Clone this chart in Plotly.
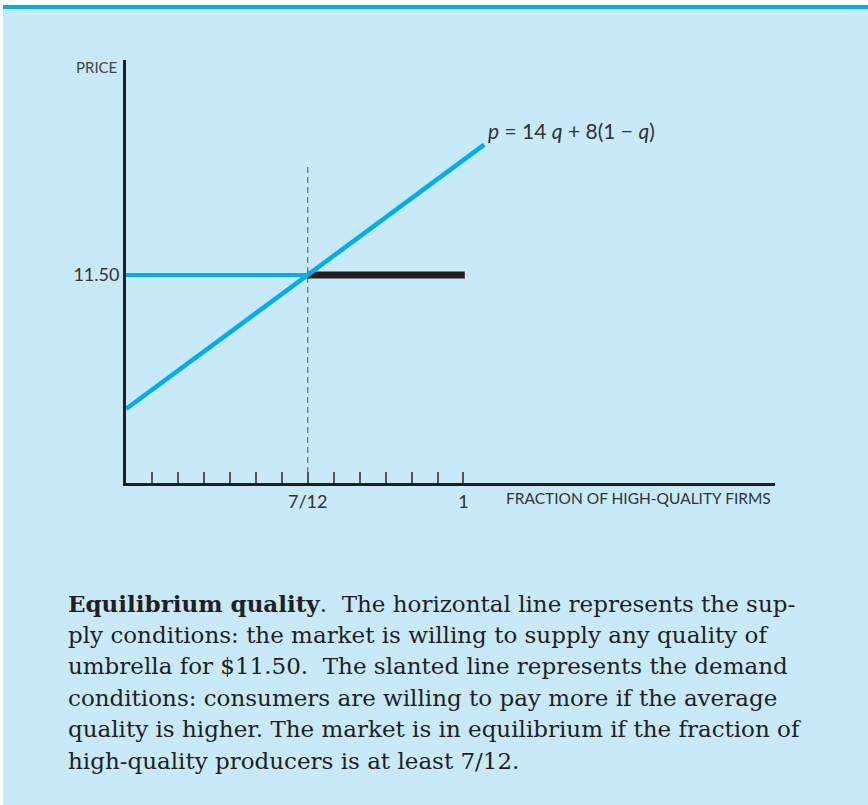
import plotly.graph_objects as go

# ---- data (axis units: one tick step per unit; 7/12 sits on tick 7, 1 on tick 13) ----
demand_x = [0.0, 13.8]
demand_y = [8.0, 14.9]
supply_low_x = [0.0, 7.0]
supply_high_x = [7.0, 13.05]
supply_price = 11.5
equilibrium_x = 7.0
dash_top = 14.35
tick_vals = list(range(1, 14))
tick_text = ["", "", "", "", "", "", "7/12", "", "", "", "", "", "1"]
y_tick_vals = [11.5]
y_tick_text = ["11.50"]

caption_lines = [
    "<b>Equilibrium quality</b>.  The horizontal line represents the sup-",
    "ply conditions: the market is willing to supply any quality of",
    "umbrella for $11.50.  The slanted line represents the demand",
    "conditions: consumers are willing to pay more if the average",
    "quality is higher. The market is in equilibrium if the fraction of",
    "high-quality producers is at least 7/12.",
]
caption_y_px = [603, 635, 666, 698, 729, 761]

W, H = 868, 805
L, R, T, B = 126, 775, 60, 483
BG = "#c8eaf8"
CYAN = "#00aeef"
DARK = "#231f20"
SANS = "Lato, 'Open Sans', sans-serif"
SERIF = "'DejaVu Serif', 'Liberation Serif', serif"


def px(x):
    return (x - L) / (R - L)


def py(y):
    return (B - y) / (B - T)


fig = go.Figure()

fig.add_trace(go.Scatter(x=[equilibrium_x, equilibrium_x], y=[6.07, dash_top], mode="lines",
                         line=dict(color="#555555", width=1, dash="6px,4px"), hoverinfo="skip"))
fig.add_trace(go.Scatter(x=supply_low_x, y=[supply_price] * 2, mode="lines",
                         line=dict(color=CYAN, width=4), hoverinfo="skip"))
fig.add_trace(go.Scatter(x=supply_high_x, y=[supply_price] * 2, mode="lines",
                         line=dict(color=DARK, width=7), hoverinfo="skip"))
fig.add_trace(go.Scatter(x=demand_x, y=demand_y, mode="lines",
                         line=dict(color=CYAN, width=4.5), hoverinfo="skip"))

annotations = [
    dict(x=px(119), y=py(67), xref="paper", yref="paper", text="PRICE", showarrow=False,
         xanchor="right", yanchor="middle", font=dict(family=SANS, size=15, color="#444444")),
    dict(x=px(504), y=py(498), xref="paper", yref="paper", text="FRACTION OF HIGH-QUALITY FIRMS",
         showarrow=False, xanchor="left", yanchor="middle",
         font=dict(family=SANS, size=15.5, color="#333333")),
    dict(x=px(486), y=py(130), xref="paper", yref="paper",
         text="<i>p</i> = 14 <i>q</i> + 8(1 \u2212 <i>q</i>)", showarrow=False,
         xanchor="left", yanchor="middle", font=dict(family=SANS, size=21, color="#333333")),
]
for line, yy in zip(caption_lines, caption_y_px):
    annotations.append(dict(x=px(66), y=py(yy), xref="paper", yref="paper", text=line,
                            showarrow=False, xanchor="left", yanchor="middle",
                            font=dict(family=SERIF, size=23, color="#231f20")))

shapes = [
    dict(type="rect", xref="paper", yref="paper", x0=px(0), x1=px(W), y0=py(0), y1=py(5),
         fillcolor="white", line=dict(width=0), layer="below"),
    dict(type="rect", xref="paper", yref="paper", x0=px(0), x1=px(3), y0=py(0), y1=py(H),
         fillcolor="white", line=dict(width=0), layer="below"),
    dict(type="rect", xref="paper", yref="paper", x0=px(3), x1=px(W), y0=py(5), y1=py(9),
         fillcolor=CYAN, line=dict(width=0), layer="below"),
]

fig.update_layout(
    width=W, height=H,
    margin=dict(l=L, r=W - R, t=T, b=H - B),
    paper_bgcolor=BG, plot_bgcolor=BG,
    showlegend=False,
    annotations=annotations,
    shapes=shapes,
    xaxis=dict(range=[0, 25], showgrid=False, zeroline=False, showline=True, linewidth=3,
               linecolor=DARK, tickmode="array", tickvals=tick_vals, ticktext=tick_text,
               ticks="inside", ticklen=11, tickwidth=1.5, tickcolor="#555555",
               tickfont=dict(family=SANS, size=18, color="#333333"), fixedrange=True),
    yaxis=dict(range=[6.07, 17.11], showgrid=False, zeroline=False, showline=True, linewidth=3,
               linecolor=DARK, tickmode="array", tickvals=y_tick_vals, ticktext=y_tick_text,
               ticks="", tickfont=dict(family=SANS, size=18, color="#333333"), fixedrange=True),
)

fig.write_html("out.html", config={"displayModeBar": False},
               post_script="document.body.style.margin='0';")
